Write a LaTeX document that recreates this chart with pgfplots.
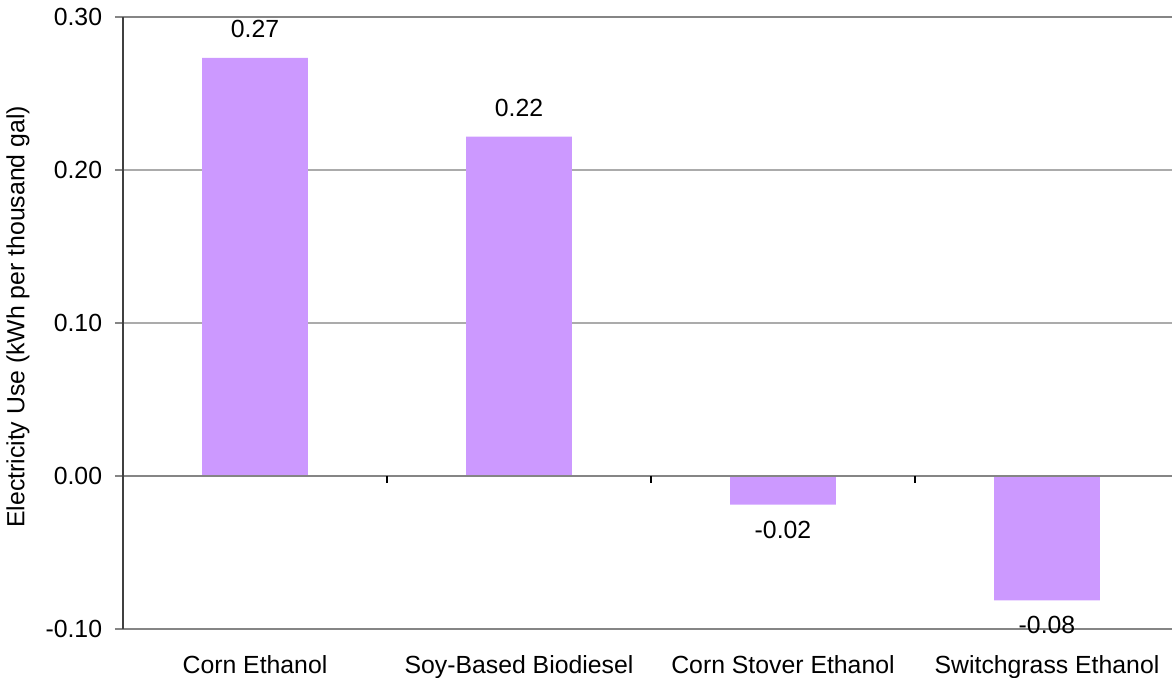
\documentclass[border=0pt]{standalone}
\usepackage{pgfplots}
\pgfplotsset{compat=1.18}
\usepackage{fontspec}
\setmainfont{Liberation Sans}
\definecolor{barc}{HTML}{CC99FF}
\definecolor{gridc}{HTML}{ABABAB}
\definecolor{framec}{HTML}{858585}
\begin{document}
\fontsize{18.6pt}{22pt}\selectfont
\begin{tikzpicture}
\useasboundingbox (0pt,0pt) rectangle (879pt,508.5pt);
\begin{axis}[
  at={(92.25pt,36.75pt)}, anchor=south west,
  scale only axis, width=786.75pt, height=459pt,
  xmin=-0.5, xmax=3.4735, ymin=-0.1, ymax=0.3,
  clip=false,
  axis line style={draw=none},
  ybar, bar width=0.4, bar shift=0pt,
  xtick={0,1,2,3},
  xticklabels={Corn Ethanol,Soy-Based Biodiesel,Corn Stover Ethanol,Switchgrass Ethanol},
  x tick style={draw=none},
  xticklabel style={inner sep=0pt, anchor=north, yshift=-14pt},
  ytick={-0.1,0,0.1,0.2,0.3},
  yticklabels={-0.10,0.00,0.10,0.20,0.30},
  yticklabel style={inner sep=0pt, anchor=east, xshift=-9.5pt},
  tick align=outside, major tick length=6pt,
  y tick style={framec, line width=0.8pt},
  ymajorgrids, grid style={gridc, line width=0.8pt},
  ylabel={Electricity Use (kWh per thousand gal)},
  ylabel style={at={(axis description cs:-0.1001,0.51)}, anchor=center},
  point meta=explicit symbolic,
]
\addplot[fill=barc, draw=none, nodes near coords,
  every node near coord/.append style={anchor=south, inner sep=0pt, yshift=14.8pt, text=black}]
  coordinates {(0,0.2733) [0.27] (1,0.2218) [0.22]};
\addplot[fill=barc, draw=none, nodes near coords,
  every node near coord/.append style={anchor=north, inner sep=0pt, yshift=-12pt, text=black}]
  coordinates {(2,-0.0187) [-0.02] (3,-0.0813) [-0.08]};
\draw[framec, line width=1.3pt] (rel axis cs:0,1) -- (rel axis cs:1,1);
\draw[framec, line width=1.3pt] (rel axis cs:0,0) -- (rel axis cs:1,0);
\draw[framec, line width=1pt] (axis cs:-0.5,0) -- (axis cs:3.4735,0);
\draw[black, line width=0.8pt] (axis cs:0.5,0) -- ++(0pt,-5pt);
\draw[black, line width=0.8pt] (axis cs:1.5,0) -- ++(0pt,-5pt);
\draw[black, line width=0.8pt] (axis cs:2.5,0) -- ++(0pt,-5pt);
\draw[black!75, line width=1.2pt] (rel axis cs:0,0) -- (rel axis cs:0,1);
\end{axis}
\end{tikzpicture}
\end{document}
